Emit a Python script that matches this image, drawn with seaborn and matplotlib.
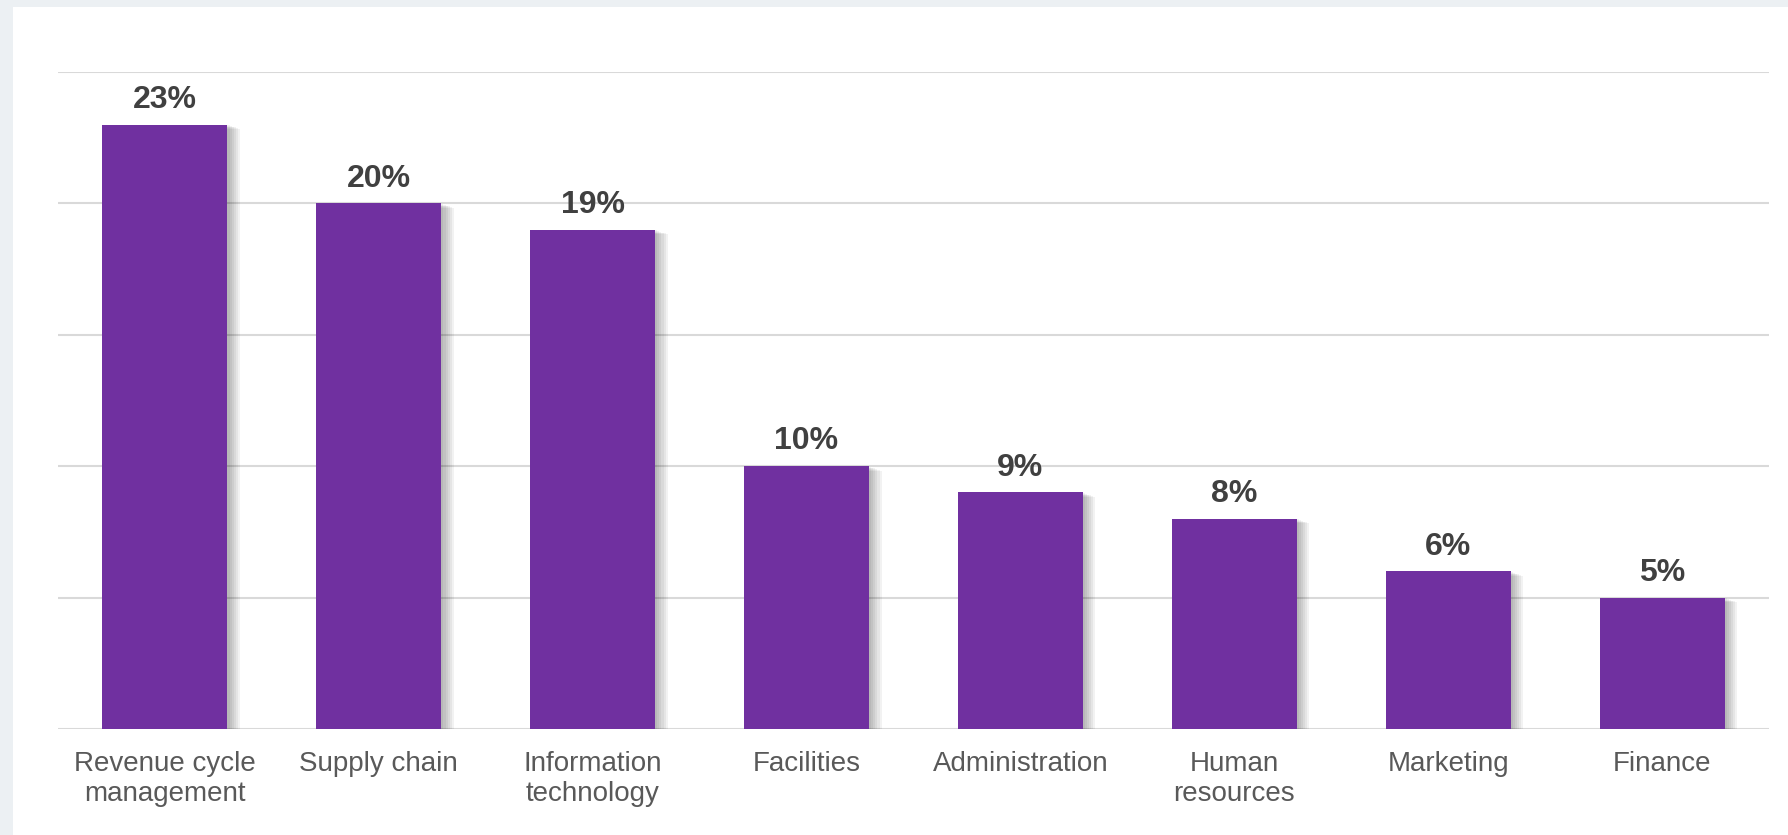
import pandas as pd
import numpy as np
import seaborn as sns
import matplotlib.pyplot as plt
import matplotlib.patheffects as pe
from matplotlib.patches import Rectangle

# data
categories = ["Revenue cycle\nmanagement", "Supply chain", "Information\ntechnology",
              "Facilities", "Administration", "Human\nresources", "Marketing", "Finance"]
values = [23, 20, 19, 10, 9, 8, 6, 5]

df = pd.DataFrame({"Area": categories, "Share": values})

sns.set_style("white")
plt.rcParams['font.family'] = ['Liberation Sans', 'DejaVu Sans']

fig = plt.figure(figsize=(17.88, 8.35), dpi=100)
fig.patch.set_facecolor('#ECF0F3')
# white panel
fig.patches.append(Rectangle((13 / 1788, 0), 1, 1 - 7 / 835, transform=fig.transFigure,
                             facecolor='white', edgecolor='none', zorder=-5))

ax = fig.add_axes([58 / 1788, 1 - 729 / 835, (1769 - 58) / 1788, (729 - 72) / 835])
ax.set_facecolor('none')

sns.barplot(data=df, x="Area", y="Share", color='#7030A0', saturation=1,
            width=0.585, ax=ax, zorder=3)

# soft drop shadow on the bars
shadow = [pe.SimplePatchShadow(offset=(o, -o * 0.35), shadow_rgbFace='black', alpha=0.05)
          for o in (1.5, 3, 4.5, 6, 7.5, 9)]
for p in ax.patches:
    p.set_path_effects(shadow + [pe.Normal()])
    p.set_edgecolor('none')

ax.bar_label(ax.containers[0], fmt='%d%%', padding=7, fontsize=23,
             fontweight='bold', color='#404040')

ax.set_ylim(0, 25)
ax.set_xlim(-0.5, len(categories) - 0.5)
ax.set_yticks(np.arange(0, 26, 5))
ax.set_yticklabels([])
ax.yaxis.grid(True, color='#D9D9D9', linewidth=1.5, zorder=0)
ax.set_axisbelow(True)
for s in ax.spines.values():
    s.set_visible(False)

ax.set_xlabel(None)
ax.set_ylabel(None)
ax.tick_params(axis='x', length=0, pad=16, labelsize=20, labelcolor='#595959')
ax.tick_params(axis='y', length=0)
for t in ax.get_xticklabels():
    t.set_linespacing(1.18)

fig.savefig('out.png', dpi=100, facecolor=fig.get_facecolor())
